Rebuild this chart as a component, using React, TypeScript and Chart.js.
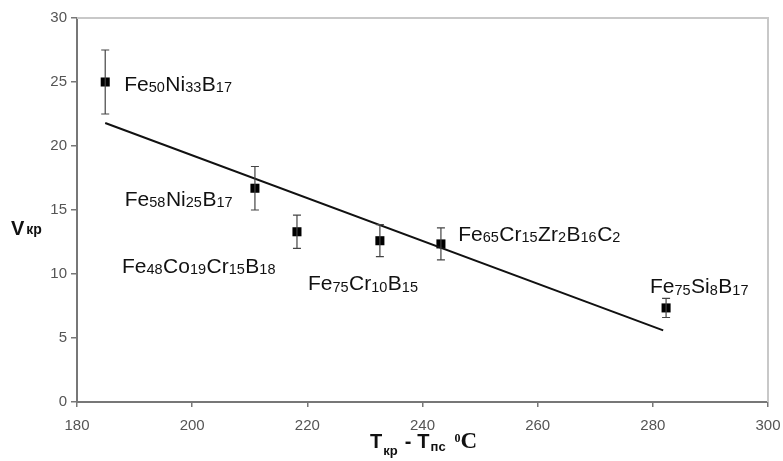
import React, { useEffect, useRef } from "react";
import { Chart, registerables } from "chart.js";

Chart.register(...registerables);

// Data
const xValues = [184.9, 210.9, 218.2, 232.6, 243.2, 282.3];
const yValues = [25.0, 16.7, 13.3, 12.6, 12.35, 7.35];
const yErrors = [2.5, 1.7, 1.3, 1.25, 1.25, 0.75];

const trendX = [184.9, 281.8];
const trendY = [21.8, 5.6];

const labelTexts = ["Fe50Ni33B17", "Fe58Ni25B17", "Fe48Co19Cr15B18", "Fe75Cr10B15", "Fe65Cr15Zr2B16C2", "Fe75Si8B17"];
const labelX = [188.2, 188.3, 187.8, 220.1, 246.2, 279.5];
const labelY = [24.9, 15.9, 10.7, 9.3, 13.2, 9.1];

const xTicks = [180, 200, 220, 240, 260, 280, 300];
const yTicks = [0, 5, 10, 15, 20, 25, 30];

const SANS = '"Liberation Sans", Arial, sans-serif';
const SERIF = '"Liberation Serif", "Times New Roman", serif';

function drawChem(ctx: CanvasRenderingContext2D, text: string, x: number, cy: number) {
  const re = /([A-Za-z]+)(\d*)/g;
  let m: RegExpExecArray | null;
  let cx = x;
  const base = cy + 7.5;
  ctx.fillStyle = "#111";
  ctx.textBaseline = "alphabetic";
  ctx.textAlign = "left";
  while ((m = re.exec(text)) !== null) {
    ctx.font = `21px ${SANS}`;
    ctx.fillText(m[1], cx, base);
    cx += ctx.measureText(m[1]).width;
    if (m[2]) {
      ctx.font = `14.5px ${SANS}`;
      ctx.fillText(m[2], cx, base + 1.5);
      cx += ctx.measureText(m[2]).width + 0.5;
    }
  }
}

const overlayPlugin = {
  id: "overlay",
  afterDatasetsDraw(chart: any) {
    const ctx: CanvasRenderingContext2D = chart.ctx;
    const xs = chart.scales.x;
    const ys = chart.scales.y;
    const area = chart.chartArea;
    ctx.save();
    // error bars
    ctx.strokeStyle = "#444";
    ctx.lineWidth = 1.2;
    for (let i = 0; i < xValues.length; i++) {
      const px = xs.getPixelForValue(xValues[i]);
      const top = ys.getPixelForValue(yValues[i] + yErrors[i]);
      const bot = ys.getPixelForValue(yValues[i] - yErrors[i]);
      ctx.beginPath();
      ctx.moveTo(px, top);
      ctx.lineTo(px, bot);
      ctx.moveTo(px - 4, top);
      ctx.lineTo(px + 4, top);
      ctx.moveTo(px - 4, bot);
      ctx.lineTo(px + 4, bot);
      ctx.stroke();
    }
    // frame top/right
    ctx.strokeStyle = "#c8c8c8";
    ctx.lineWidth = 2;
    ctx.beginPath();
    ctx.moveTo(area.left, area.top);
    ctx.lineTo(area.right, area.top);
    ctx.lineTo(area.right, area.bottom);
    ctx.stroke();
    // labels
    for (let i = 0; i < labelTexts.length; i++) {
      drawChem(ctx, labelTexts[i], xs.getPixelForValue(labelX[i]), ys.getPixelForValue(labelY[i]));
    }
    // Y title
    ctx.fillStyle = "#111";
    ctx.textAlign = "left";
    ctx.textBaseline = "alphabetic";
    const yb = 235;
    ctx.font = `bold 20px ${SANS}`;
    ctx.fillText("V", 11, yb);
    const vw = ctx.measureText("V").width;
    ctx.font = `bold 14px ${SANS}`;
    ctx.fillText("кр", 11 + vw + 2, yb - 1);
    // X title
    const xb = 448;
    let cx = 370;
    ctx.font = `bold 20px ${SANS}`;
    ctx.fillText("T", cx, xb);
    cx += ctx.measureText("T").width + 1;
    ctx.font = `bold 13px ${SANS}`;
    ctx.fillText("кр", cx, xb + 7);
    cx += ctx.measureText("кр").width + 7;
    ctx.font = `bold 20px ${SANS}`;
    ctx.fillText("-", cx, xb);
    cx += ctx.measureText("-").width + 6;
    ctx.fillText("T", cx, xb);
    cx += ctx.measureText("T").width + 1;
    ctx.font = `bold 13px ${SANS}`;
    ctx.fillText("пс", cx, xb + 3);
    cx += ctx.measureText("пс").width + 9;
    ctx.font = `bold 12px ${SERIF}`;
    ctx.fillText("0", cx, xb - 6);
    cx += ctx.measureText("0").width;
    ctx.font = `bold 23px ${SERIF}`;
    ctx.fillText("C", cx, xb);
    ctx.restore();
  },
};

export default function App() {
  const ref = useRef<HTMLCanvasElement>(null);
  useEffect(() => {
    document.body.style.margin = "0";
    const canvas = ref.current!;
    const points = xValues.map((x, i) => ({ x, y: yValues[i] }));
    const trend = trendX.map((x, i) => ({ x, y: trendY[i] }));
    const chart = new Chart(canvas, {
      type: "scatter",
      data: {
        datasets: [
          {
            type: "line",
            data: trend,
            borderColor: "#111",
            borderWidth: 2,
            pointRadius: 0,
            showLine: true,
            fill: false,
          } as any,
          {
            data: points,
            pointStyle: "rect",
            pointRadius: 6.4,
            backgroundColor: "#000",
            borderColor: "#000",
            borderWidth: 0,
          },
        ],
      },
      options: {
        responsive: false,
        animation: false,
        layout: { padding: { top: 18, right: 15, left: 0, bottom: 0 } },
        plugins: { legend: { display: false }, tooltip: { enabled: false } },
        scales: {
          x: {
            type: "linear",
            min: 180,
            max: 300,
            afterBuildTicks: (s: any) => {
              s.ticks = xTicks.map((v) => ({ value: v }));
            },
            afterFit: (s: any) => {
              s.height = 59;
              s.paddingRight = 0;
              s.paddingLeft = 0;
            },
            ticks: { color: "#555", font: { family: SANS, size: 15 }, padding: 10, maxRotation: 0 },
            grid: { drawOnChartArea: false, tickLength: 5, color: "#777", lineWidth: 1.5 },
            border: { color: "#777", width: 2 },
          },
          y: {
            min: 0,
            max: 30,
            afterBuildTicks: (s: any) => {
              s.ticks = yTicks.map((v) => ({ value: v }));
            },
            afterFit: (s: any) => {
              s.width = 77;
            },
            ticks: { color: "#555", font: { family: SANS, size: 15 }, padding: 4 },
            grid: { drawOnChartArea: false, tickLength: 6, color: "#777", lineWidth: 1.5 },
            border: { color: "#777", width: 2 },
          },
        },
      },
      plugins: [overlayPlugin],
    });
    return () => chart.destroy();
  }, []);
  return (
    <div style={{ position: "absolute", left: 0, top: 0, width: 783, height: 461, background: "#fff" }}>
      <canvas ref={ref} width={783} height={461} />
    </div>
  );
}
